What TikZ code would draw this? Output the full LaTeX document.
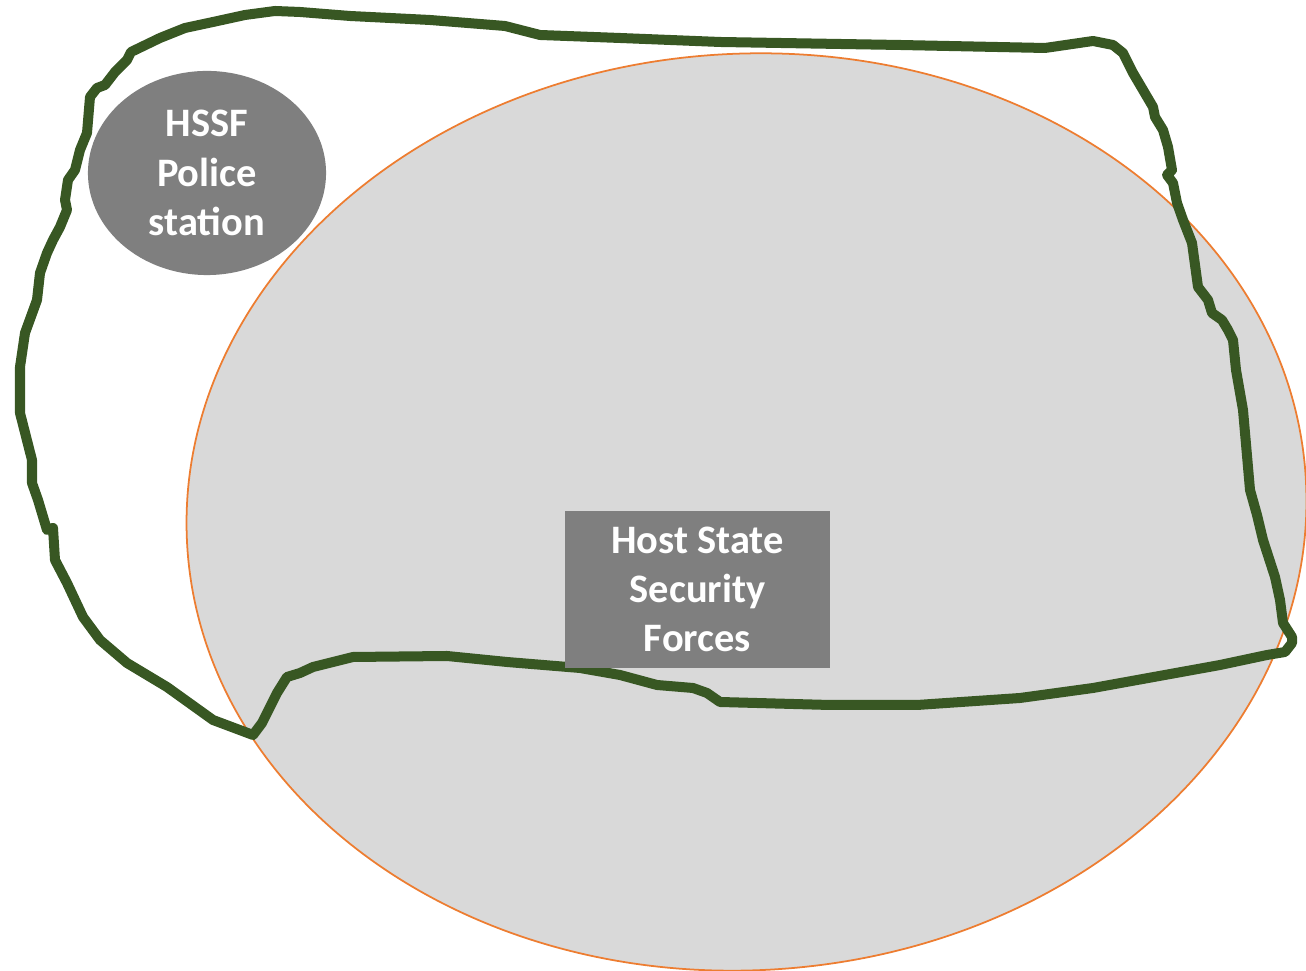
\documentclass[tikz,border=0pt]{standalone}
\usepackage{xcolor}
\usepackage{fontspec}
\setmainfont{Carlito}
\usepackage{tikz}
\usetikzlibrary{shapes.geometric}
\definecolor{AreaGray}{HTML}{D9D9D9}
\definecolor{AreaEdge}{HTML}{ED7D31}
\definecolor{BoxGray}{HTML}{7F7F7F}
\definecolor{RouteGreen}{HTML}{385723}
\tikzset{
  areanode/.style={ellipse,draw=AreaEdge,fill=AreaGray,line width=0.5pt,
    minimum width=11.2cm,minimum height=9.16cm,inner sep=0pt},
  stationnode/.style={ellipse,fill=BoxGray,
    minimum width=2.38cm,minimum height=2.04cm,inner sep=0pt,
    font=\fontsize{11.5}{14}\selectfont\bfseries\color{white},align=center},
  forcenode/.style={rectangle,fill=BoxGray,
    minimum width=2.65cm,minimum height=1.57cm,inner sep=0pt,
    font=\fontsize{11.5}{14}\selectfont\bfseries\color{white},align=center},
  routeline/.style={draw=RouteGreen,line width=0.1cm,line join=round,line cap=round},
}

\begin{document}
\begin{tikzpicture}[x=0.01cm,y=-0.01cm]
  \useasboundingbox (0,0) rectangle (1306,971);
  % Areas
  \node[areanode,rotate=3.5] (area) at (746.5,512) {};
  \node[stationnode] (hssf) at (207,173) {HSSF\\Police\\station};
  % Route around the area
  \draw[routeline] (131,52) -- (160,38) -- (185,28) -- (213,22) -- (245,15)
    -- (275,11) -- (300,12) -- (350,16) -- (430,20) -- (505,26) -- (540,35)
    -- (620,38) -- (720,42) -- (900,45) -- (1045,48) -- (1093,41) -- (1113,45)
    -- (1123,53) -- (1133,73) -- (1153,107) -- (1155,117) -- (1163,130)
    -- (1168,147) -- (1172,170) -- (1167,175) -- (1173,183) -- (1177,203)
    -- (1183,220) -- (1192,243) -- (1198,287) -- (1208,300) -- (1212,313)
    -- (1222,320) -- (1228,330) -- (1233,340) -- (1236,370) -- (1243,410)
    -- (1250,490) -- (1257,515) -- (1263,540) -- (1275,577) -- (1280,600)
    -- (1283,623) -- (1292,637) -- (1292,643) -- (1285,652) -- (1267,655)
    -- (1220,665) -- (1093,688) -- (1020,698) -- (917,705) -- (830,705)
    -- (720,702) -- (707,693) -- (693,688) -- (657,685) -- (620,675)
    -- (580,668) -- (507,662) -- (447,656) -- (353,657) -- (313,667)
    -- (300,673) -- (287,677) -- (277,693) -- (262,723) -- (253,735)
    -- (213,720) -- (167,687) -- (127,663) -- (100,640) -- (83,617)
    -- (67,583) -- (55,560) -- (53,528) -- (47,530) -- (38,500) -- (32,483)
    -- (32,460) -- (20,413) -- (20,367) -- (25,333) -- (37,300) -- (40,273)
    -- (47,253) -- (53,240) -- (60,227) -- (67,210) -- (65,200) -- (68,180)
    -- (75,170) -- (80,150) -- (87,133) -- (90,97) -- (97,88) -- (105,85)
    -- (115,72) -- (127,60) -- cycle;
  % Forces box sits over the route
  \node[forcenode] (forces) at (697.5,589.5) {Host State\\Security\\Forces};
\end{tikzpicture}
\end{document}
